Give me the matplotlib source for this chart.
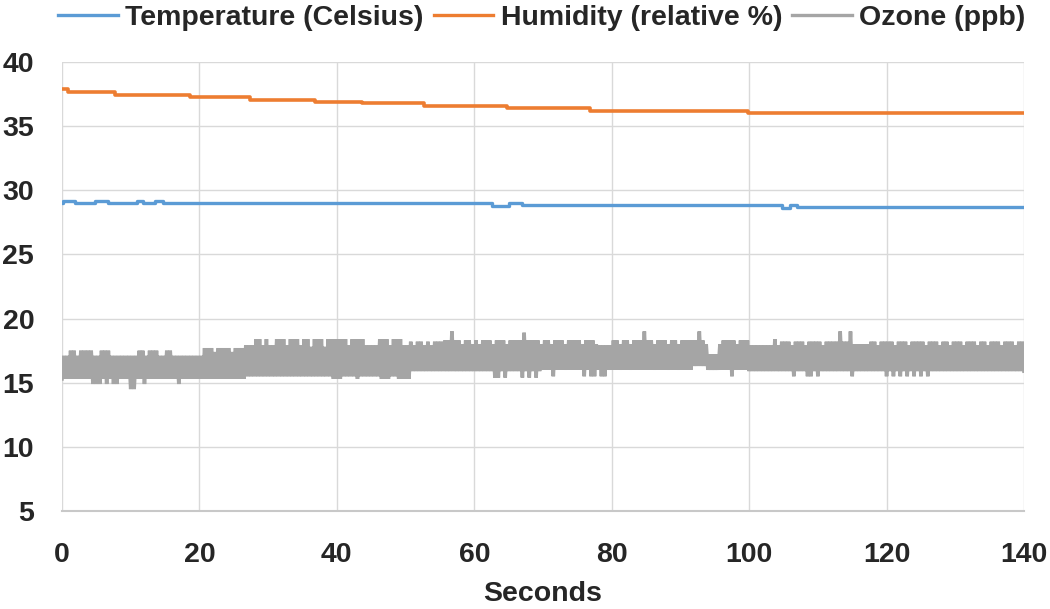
import numpy as np
import matplotlib
matplotlib.use("Agg")
import matplotlib.pyplot as plt

# ---------------- data ----------------
x_ticks = [0, 20, 40, 60, 80, 100, 120, 140]
y_ticks = [5, 10, 15, 20, 25, 30, 35, 40]

# humidity (relative %) - step changes (time s, value)
hum_t = [0, 0.9, 7.7, 18.6, 27.4, 36.8, 43.7, 52.7, 64.8, 76.8, 99.8, 140]
hum_v = [37.9, 37.67, 37.43, 37.25, 37.05, 36.9, 36.8, 36.6, 36.4, 36.2, 36.03, 36.03]

# temperature (Celsius) - step changes (time s, value)
temp_t = [0, 0.2, 1.9, 4.8, 6.7, 10.9, 11.8, 13.5, 14.7, 62.6, 65.0, 67.0, 104.8, 106.0, 107.0, 140]
temp_v = [29.0, 29.2, 29.0, 29.2, 29.0, 29.2, 29.0, 29.2, 29.0, 28.8, 29.0, 28.87, 28.65, 28.87, 28.7, 28.7]

# ozone (ppb), one sample every 0.25 s, 0 .. 140 s
ozone_dt = 0.25
ozone_ppb = [
    15.3, 17.1, 15.3, 17.1, 15.3, 17.5, 15.3, 17.5, 15.3, 17.1, 15.3, 17.5, 15.3, 17.5, 15.3, 17.5, 15.3, 17.5, 14.9, 17.1,
    14.9, 17.1, 14.9, 17.5, 15.3, 17.5, 14.9, 17.5, 15.3, 17.1, 14.9, 17.1, 14.9, 17.1, 15.3, 17.1, 15.3, 17.1, 15.3, 17.1,
    14.5, 17.1, 14.5, 17.1, 15.3, 17.5, 15.3, 17.5, 14.9, 17.1, 15.3, 17.5, 15.3, 17.5, 15.3, 17.5, 15.3, 17.1, 15.3, 17.1,
    15.3, 17.5, 15.3, 17.5, 15.3, 17.1, 15.3, 17.1, 14.9, 17.1, 15.3, 17.1, 15.3, 17.1, 15.3, 17.1, 15.3, 17.1, 15.3, 17.1,
    15.3, 17.1, 15.3, 17.7, 15.3, 17.7, 15.3, 17.7, 15.3, 17.4, 15.3, 17.7, 15.3, 17.7, 15.3, 17.7, 15.3, 17.7, 15.3, 17.4,
    15.3, 17.7, 15.3, 17.7, 15.3, 17.7, 15.3, 17.9, 15.5, 17.9, 15.5, 17.9, 15.5, 18.4, 15.5, 18.4, 15.5, 17.9, 15.5, 18.4,
    15.5, 17.9, 15.5, 17.9, 15.5, 18.4, 15.5, 18.4, 15.5, 18.4, 15.5, 17.9, 15.5, 18.4, 15.5, 18.4, 15.5, 18.4, 15.5, 17.9,
    15.5, 18.4, 15.5, 18.4, 15.5, 17.8, 15.5, 18.4, 15.5, 18.4, 15.5, 18.4, 15.5, 17.8, 15.5, 18.4, 15.5, 18.4, 15.3, 18.4,
    15.3, 18.4, 15.3, 18.4, 15.5, 18.4, 15.5, 17.9, 15.5, 18.4, 15.5, 18.4, 15.3, 18.4, 15.5, 18.4, 15.5, 17.9, 15.5, 17.9,
    15.5, 17.9, 15.5, 17.9, 15.5, 18.4, 15.3, 18.4, 15.3, 18.4, 15.3, 17.9, 15.5, 18.4, 15.5, 18.4, 15.3, 18.4, 15.3, 17.9,
    15.3, 17.9, 15.3, 18.2, 15.9, 17.9, 15.9, 18.2, 15.9, 18.2, 15.9, 17.9, 15.9, 18.2, 15.9, 17.9, 15.9, 18.2, 15.9, 18.2,
    15.9, 18.2, 15.9, 18.3, 15.9, 18.3, 15.9, 19.0, 15.9, 18.3, 15.9, 18.3, 15.9, 18.0, 15.9, 18.3, 15.9, 18.3, 15.9, 18.0,
    15.9, 18.3, 15.9, 18.0, 15.9, 18.3, 15.9, 18.3, 15.9, 18.3, 15.9, 18.0, 15.4, 18.3, 15.4, 18.3, 15.9, 18.3, 15.4, 18.0,
    15.9, 18.3, 15.9, 18.3, 15.9, 18.3, 15.9, 18.3, 15.4, 18.9, 15.9, 18.3, 15.4, 18.3, 15.9, 18.3, 15.4, 18.3, 15.9, 18.0,
    16.0, 18.3, 16.0, 18.3, 16.0, 18.0, 15.5, 18.3, 16.0, 18.3, 16.0, 18.3, 16.0, 18.0, 16.0, 18.3, 16.0, 18.3, 16.0, 18.3,
    16.0, 18.3, 16.0, 18.0, 15.5, 18.3, 16.0, 18.3, 15.5, 18.3, 15.5, 18.0, 16.0, 17.9, 15.5, 17.9, 15.5, 17.9, 16.0, 17.9,
    16.0, 18.3, 16.0, 18.3, 16.0, 18.0, 16.0, 18.3, 16.0, 18.3, 16.0, 18.0, 16.0, 18.3, 16.0, 18.3, 16.0, 18.3, 16.0, 19.0,
    16.0, 18.3, 16.0, 18.3, 16.0, 18.0, 16.0, 18.3, 16.0, 18.3, 16.0, 18.3, 16.0, 18.0, 16.0, 18.3, 16.0, 18.3, 16.0, 18.0,
    16.0, 18.3, 16.0, 18.3, 16.0, 18.3, 16.0, 18.3, 16.3, 18.3, 16.3, 19.0, 16.3, 18.3, 16.3, 18.0, 16.0, 17.2, 16.0, 17.2,
    16.0, 17.2, 16.0, 18.0, 16.0, 18.3, 16.0, 18.3, 16.0, 18.3, 15.5, 18.3, 16.0, 18.0, 16.0, 18.3, 16.0, 18.3, 16.0, 18.3,
    15.9, 17.9, 15.9, 17.9, 15.9, 17.9, 15.9, 17.9, 15.9, 17.9, 15.9, 17.9, 15.9, 17.9, 15.9, 18.4, 15.9, 17.9, 15.9, 18.2,
    15.9, 18.2, 15.9, 18.2, 15.9, 17.9, 15.5, 18.2, 15.9, 18.2, 15.9, 18.2, 15.9, 17.9, 15.5, 18.2, 15.5, 18.2, 15.9, 18.2,
    15.5, 18.2, 15.9, 17.9, 15.9, 18.2, 15.9, 18.2, 15.9, 18.2, 15.9, 18.2, 15.9, 19.0, 15.9, 18.2, 15.9, 18.2, 15.9, 19.0,
    15.5, 18.0, 15.9, 18.0, 15.9, 18.0, 15.9, 18.0, 15.9, 18.0, 15.9, 18.2, 15.9, 18.2, 15.9, 17.9, 15.9, 18.2, 15.9, 18.2,
    15.5, 18.2, 15.9, 18.2, 15.5, 17.9, 15.9, 18.2, 15.5, 18.2, 15.9, 18.2, 15.5, 17.9, 15.9, 18.2, 15.5, 18.2, 15.9, 18.2,
    15.5, 18.2, 15.9, 17.9, 15.5, 18.2, 15.9, 18.2, 15.9, 18.2, 15.9, 17.9, 15.9, 18.2, 15.9, 18.2, 15.9, 17.9, 15.9, 18.2,
    15.9, 18.2, 15.9, 18.2, 15.9, 17.9, 15.9, 18.2, 15.9, 18.2, 15.9, 18.2, 15.9, 17.9, 15.9, 18.2, 15.9, 18.2, 15.9, 17.9,
    15.9, 18.2, 15.9, 18.2, 15.9, 18.2, 15.9, 17.9, 15.9, 18.2, 15.9, 18.2, 15.9, 18.2, 15.9, 17.9, 15.9, 18.2, 15.9, 18.2,
    15.9,
]
ozone_t = np.arange(len(ozone_ppb)) * ozone_dt

labels = ["Temperature (Celsius)", "Humidity (relative %)", "Ozone (ppb)"]
colors = ["#5B9BD5", "#ED7D31", "#A5A5A5"]

# ---------------- figure ----------------
FONT = ["Liberation Sans", "DejaVu Sans"]
plt.rcParams["font.family"] = FONT

fig = plt.figure(figsize=(10.5, 6.09), dpi=100)
ax = fig.add_axes([62 / 1050, 1 - 511 / 609, (1024 - 62) / 1050, (511 - 62) / 609])

ax.plot(ozone_t, ozone_ppb, color=colors[2], lw=2.6, label=labels[2], zorder=3,
        solid_joinstyle="miter")
ax.step(temp_t, temp_v, where="post", color=colors[0], lw=2.4, label=labels[0], zorder=4)
ax.step(hum_t, hum_v, where="post", color=colors[1], lw=2.6, label=labels[1], zorder=4)

ax.set_xlim(0, 140)
ax.set_ylim(5, 40)
ax.set_xticks(x_ticks)
ax.set_yticks(y_ticks)
ax.grid(True, color="#D9D9D9", lw=1.0)
ax.set_axisbelow(True)
for s in ["top", "right", "left"]:
    ax.spines[s].set_visible(False)
ax.spines["bottom"].set_color("#C8C8C8")
ax.spines["bottom"].set_linewidth(1.5)
ax.tick_params(axis="both", length=0, labelsize=20.5, colors="#262626")
ax.tick_params(axis="y", pad=20)
ax.tick_params(axis="x", pad=22)
for lab in ax.get_xticklabels() + ax.get_yticklabels():
    lab.set_fontweight("bold")

ax.set_xlabel("Seconds", fontsize=20.5, fontweight="bold", color="#262626", labelpad=10)

h, l = ax.get_legend_handles_labels()
hs = [None] * 3
for hh, ll in zip(h, l):
    hs[labels.index(ll)] = hh
leg = fig.legend(hs, labels, loc="center", bbox_to_anchor=(0.516, 0.970), ncol=3,
                 frameon=False, fontsize=20.5, handlelength=2.1, handletextpad=0.25,
                 columnspacing=0.35, borderaxespad=0)
for t in leg.get_texts():
    t.set_color("#262626")
    t.set_fontweight("bold")
for ln in leg.get_lines():
    ln.set_linewidth(2.4)

fig.savefig("out.png", dpi=100)
